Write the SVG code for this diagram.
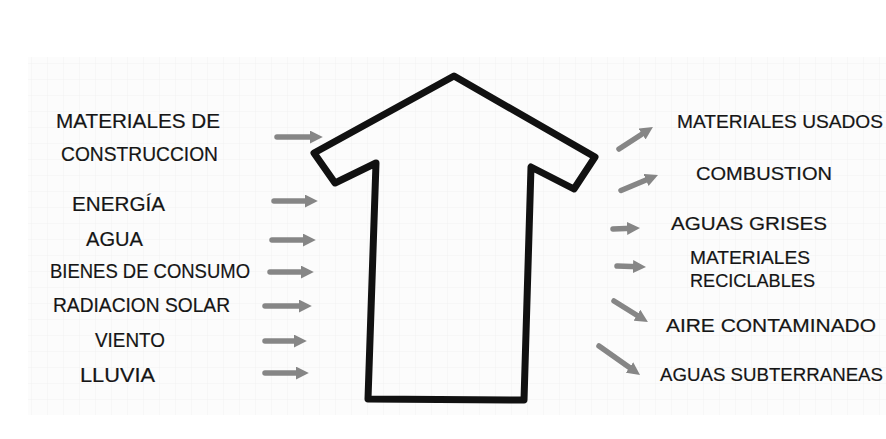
<svg xmlns="http://www.w3.org/2000/svg" width="886" height="439" viewBox="0 0 886 439">
<defs>
<pattern id="grid" width="16" height="16" patternUnits="userSpaceOnUse">
<path d="M16 0 V16 M0 16 H16" fill="none" stroke="#f2f2f2" stroke-width="1"/>
</pattern>
<marker id="ah" viewBox="0 0 10 10" refX="4" refY="5" markerWidth="13" markerHeight="13" markerUnits="userSpaceOnUse" orient="auto">
<path d="M0,0 L10,5 L0,10 z" fill="#868686"/>
</marker>
</defs>
<style>
.t{font-family:"Liberation Sans","DejaVu Sans",sans-serif;fill:#151515;stroke:#151515;stroke-width:0.2;}
.l{font-size:21px;}
.r{font-size:19px;}
.a{stroke:#868686;stroke-width:5.5;stroke-linecap:round;fill:none;marker-end:url(#ah);}
.house{fill:none;stroke:#111;stroke-width:7;stroke-linejoin:round;}
</style>
<rect width="886" height="439" fill="#ffffff"/>
<rect x="28" y="57" width="858" height="358" fill="#fcfcfc"/>
<rect x="28" y="57" width="858" height="358" fill="url(#grid)"/>

<g id="house">
<path class="house" d="M454,76 L595,157 L574,189 L531,167 L524,400 L368,399 L376,163 L335,183 L314,153 Z"/>
</g>

<g id="in-materiales"><text class="t l" x="56" y="128" textLength="164" lengthAdjust="spacingAndGlyphs">MATERIALES DE</text><text class="t l" x="61" y="161" textLength="157" lengthAdjust="spacingAndGlyphs">CONSTRUCCION</text></g>
<g id="in-energia"><text class="t l" x="72" y="211" textLength="93" lengthAdjust="spacingAndGlyphs">ENERGÍA</text></g>
<g id="in-agua"><text class="t l" x="86" y="246" textLength="57" lengthAdjust="spacingAndGlyphs">AGUA</text></g>
<g id="in-bienes"><text class="t l" x="50" y="278" textLength="200" lengthAdjust="spacingAndGlyphs">BIENES DE CONSUMO</text></g>
<g id="in-radiacion"><text class="t l" x="53" y="312" textLength="177" lengthAdjust="spacingAndGlyphs">RADIACION SOLAR</text></g>
<g id="in-viento"><text class="t l" x="95" y="347" textLength="70" lengthAdjust="spacingAndGlyphs">VIENTO</text></g>
<g id="in-lluvia"><text class="t l" x="80" y="382" textLength="75" lengthAdjust="spacingAndGlyphs">LLUVIA</text></g>

<g id="out-materiales-usados"><text class="t r" x="677" y="128" textLength="206" lengthAdjust="spacingAndGlyphs">MATERIALES USADOS</text></g>
<g id="out-combustion"><text class="t r" x="696" y="180" textLength="136" lengthAdjust="spacingAndGlyphs">COMBUSTION</text></g>
<g id="out-aguas-grises"><text class="t r" x="671" y="230" textLength="156" lengthAdjust="spacingAndGlyphs">AGUAS GRISES</text></g>
<g id="out-reciclables"><text class="t r" x="690" y="264" textLength="120" lengthAdjust="spacingAndGlyphs">MATERIALES</text><text class="t r" x="690" y="287" textLength="125" lengthAdjust="spacingAndGlyphs">RECICLABLES</text></g>
<g id="out-aire"><text class="t r" x="666" y="332" textLength="210" lengthAdjust="spacingAndGlyphs">AIRE CONTAMINADO</text></g>
<g id="out-aguas-subterraneas"><text class="t r" x="660" y="381" textLength="223" lengthAdjust="spacingAndGlyphs">AGUAS SUBTERRANEAS</text></g>

<g id="connectors">
<line class="a" x1="277" y1="137" x2="315" y2="137"/>
<line class="a" x1="274" y1="201" x2="310" y2="201"/>
<line class="a" x1="272" y1="240" x2="308" y2="240"/>
<line class="a" x1="270" y1="272" x2="306" y2="272"/>
<line class="a" x1="265" y1="306" x2="304" y2="306"/>
<line class="a" x1="265" y1="341" x2="299" y2="341"/>
<line class="a" x1="265" y1="373" x2="301" y2="373"/>
<line class="a" x1="619" y1="149" x2="646.4" y2="131.2"/>
<line class="a" x1="621" y1="190.5" x2="650.8" y2="178"/>
<line class="a" x1="613" y1="229" x2="632.2" y2="228.3"/>
<line class="a" x1="617" y1="266" x2="638.2" y2="266.7"/>
<line class="a" x1="614" y1="301" x2="641.3" y2="318"/>
<line class="a" x1="599" y1="346" x2="633.7" y2="370.5"/>
</g>
</svg>
